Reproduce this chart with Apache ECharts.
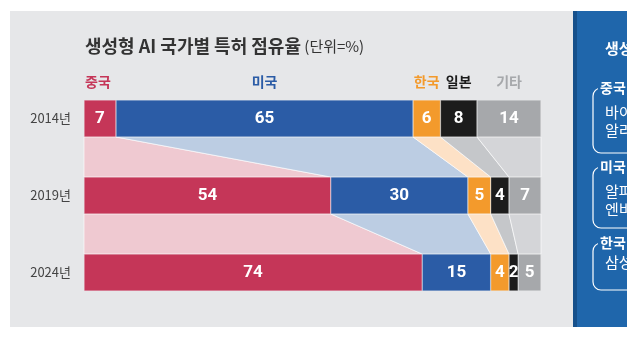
<!DOCTYPE html>
<html><head><meta charset="utf-8">
<script src="https://cdn.jsdelivr.net/npm/echarts@6/dist/echarts.min.js"></script>
<style>html,body{margin:0;padding:0;background:#fff}#c{width:627px;height:355px}</style>
</head><body><div id="c"></div>
<script>
const years = ['2014년', '2019년', '2024년'];
const countries = ['중국', '미국', '한국', '일본', '기타'];
const china = [7, 54, 74];
const usa = [65, 30, 15];
const korea = [6, 5, 4];
const japan = [8, 4, 2];
const others = [14, 7, 5];
const sideTitle = '생성형 AI 주요 기업';
const sideGroups = [['중국', '바이두', '알리바바'], ['미국', '알파벳', '엔비디아'], ['한국', '삼성전자']];

const seriesValues = [china, usa, korea, japan, others];
const barColors = ['#c53658', '#2b5ca6', '#f39a2c', '#1c1c1c', '#a6a8ab'];
const bandColors = ['#efc9d1', '#bccde3', '#fde1c6', '#c5c7ca', '#d4d5d8'];
const BAR_FRAC = 0.48;
const FONT = '"Noto Sans CJK KR", sans-serif';

function cum(row) {
  const c = [0];
  for (let k = 0; k < seriesValues.length; k++) c.push(c[k] + seriesValues[k][row]);
  return c;
}

const bars = countries.map((name, k) => ({
  type: 'bar', name, stack: 'all', barWidth: (BAR_FRAC * 100) + '%', z: 3,
  data: seriesValues[k],
  itemStyle: { color: barColors[k], borderColor: 'rgba(255,255,255,0.35)', borderWidth: 0.6 },
  label: { show: true, position: 'inside', formatter: '{c}', color: '#fff', fontSize: 17, fontWeight: 'bold', fontFamily: 'Roboto, ' + FONT }
}));

const bandData = [];
for (let i = 0; i < years.length - 1; i++) for (let k = 0; k < countries.length; k++) bandData.push([0, i, k]);

const bands = {
  type: 'custom', z: 1, silent: true, encode: { x: 0, y: 1 }, data: bandData,
  renderItem: function (params, api) {
    const i = api.value(1), k = api.value(2);
    const c0 = cum(i), c1 = cum(i + 1);
    const half = api.size([0, 1])[1] * BAR_FRAC / 2;
    const a1 = api.coord([c0[k], i]), a2 = api.coord([c0[k + 1], i]);
    const b1 = api.coord([c1[k], i + 1]), b2 = api.coord([c1[k + 1], i + 1]);
    const pts = [[a1[0], a1[1] + half], [a2[0], a2[1] + half], [b2[0], b2[1] - half], [b1[0], b1[1] - half]];
    return { type: 'polygon', shape: { points: pts }, style: { fill: bandColors[k], stroke: 'rgba(255,255,255,0.8)', lineWidth: 0.8 } };
  }
};

const headers = {
  type: 'custom', z: 4, silent: true, encode: { x: 0, y: 1 },
  data: countries.map((c, k) => [0, 0, k]),
  renderItem: function (params, api) {
    const k = api.value(2);
    const c0 = cum(0);
    const half = api.size([0, 1])[1] * BAR_FRAC / 2;
    const l = api.coord([c0[k], 0]), r = api.coord([c0[k + 1], 0]);
    const left = k === 0;
    return { type: 'text', style: {
      text: countries[k], x: left ? l[0] + 1 : (l[0] + r[0]) / 2, y: l[1] - half - 18,
      align: left ? 'left' : 'center', verticalAlign: 'middle',
      fill: barColors[k], font: 'bold 14px ' + FONT } };
  }
};

const graphics = [
  { type: 'rect', z: -10, shape: { x: 10, y: 11, width: 564, height: 316 }, style: { fill: '#e6e7e9' } },
  { type: 'rect', z: -10, shape: { x: 573, y: 11, width: 5, height: 316 }, style: { fill: '#16508b' } },
  { type: 'rect', z: -10, shape: { x: 577, y: 11, width: 60, height: 316 }, style: { fill: '#1f66ab' } },
  { type: 'text', z: 10, style: { x: 85, y: 46, verticalAlign: 'middle',
      text: '{a|생성형 AI 국가별 특허 점유율} {b|(단위=%)}',
      rich: { a: { font: 'bold 18px ' + FONT, fill: '#333' }, b: { font: '15px ' + FONT, fill: '#333' } } } },
  { type: 'text', z: 10, style: { x: 605, y: 48, verticalAlign: 'middle', text: sideTitle, fill: '#fff', font: 'bold 15px ' + FONT } }
];
const boxes = [[88, 153], [167, 228], [243, 290]];
sideGroups.forEach((g, gi) => {
  const [t, b] = boxes[gi];
  graphics.push({ type: 'rect', z: 10, shape: { x: 593, y: t, width: 80, height: b - t, r: 8 }, style: { fill: 'none', stroke: '#fff', lineWidth: 1.2 } });
  graphics.push({ type: 'text', z: 11, style: { x: 598, y: t, verticalAlign: 'middle', text: g[0], fill: '#fff', font: 'bold 14px ' + FONT, backgroundColor: '#1f66ab', padding: [1, 2] } });
  g.slice(1).forEach((s, si) => {
    const y = gi === 2 ? t + 19 : t + 24 + si * 18;
    graphics.push({ type: 'text', z: 11, style: { x: 605, y, verticalAlign: 'middle', text: s, fill: '#fff', font: '15px ' + FONT } });
  });
});

const chart = echarts.init(document.getElementById('c'), null, { renderer: 'canvas' });
chart.setOption({
  animation: false,
  backgroundColor: '#fff',
  grid: { left: 84, right: 86, top: 80, bottom: 44 },
  xAxis: { type: 'value', min: 0, max: 100, show: false },
  yAxis: { type: 'category', data: years, inverse: true,
    axisLine: { show: false }, axisTick: { show: false }, splitLine: { show: false },
    axisLabel: { color: '#444', fontSize: 13, margin: 13, fontFamily: FONT } },
  graphic: graphics,
  series: [bands].concat(bars, [headers])
});
</script></body></html>
